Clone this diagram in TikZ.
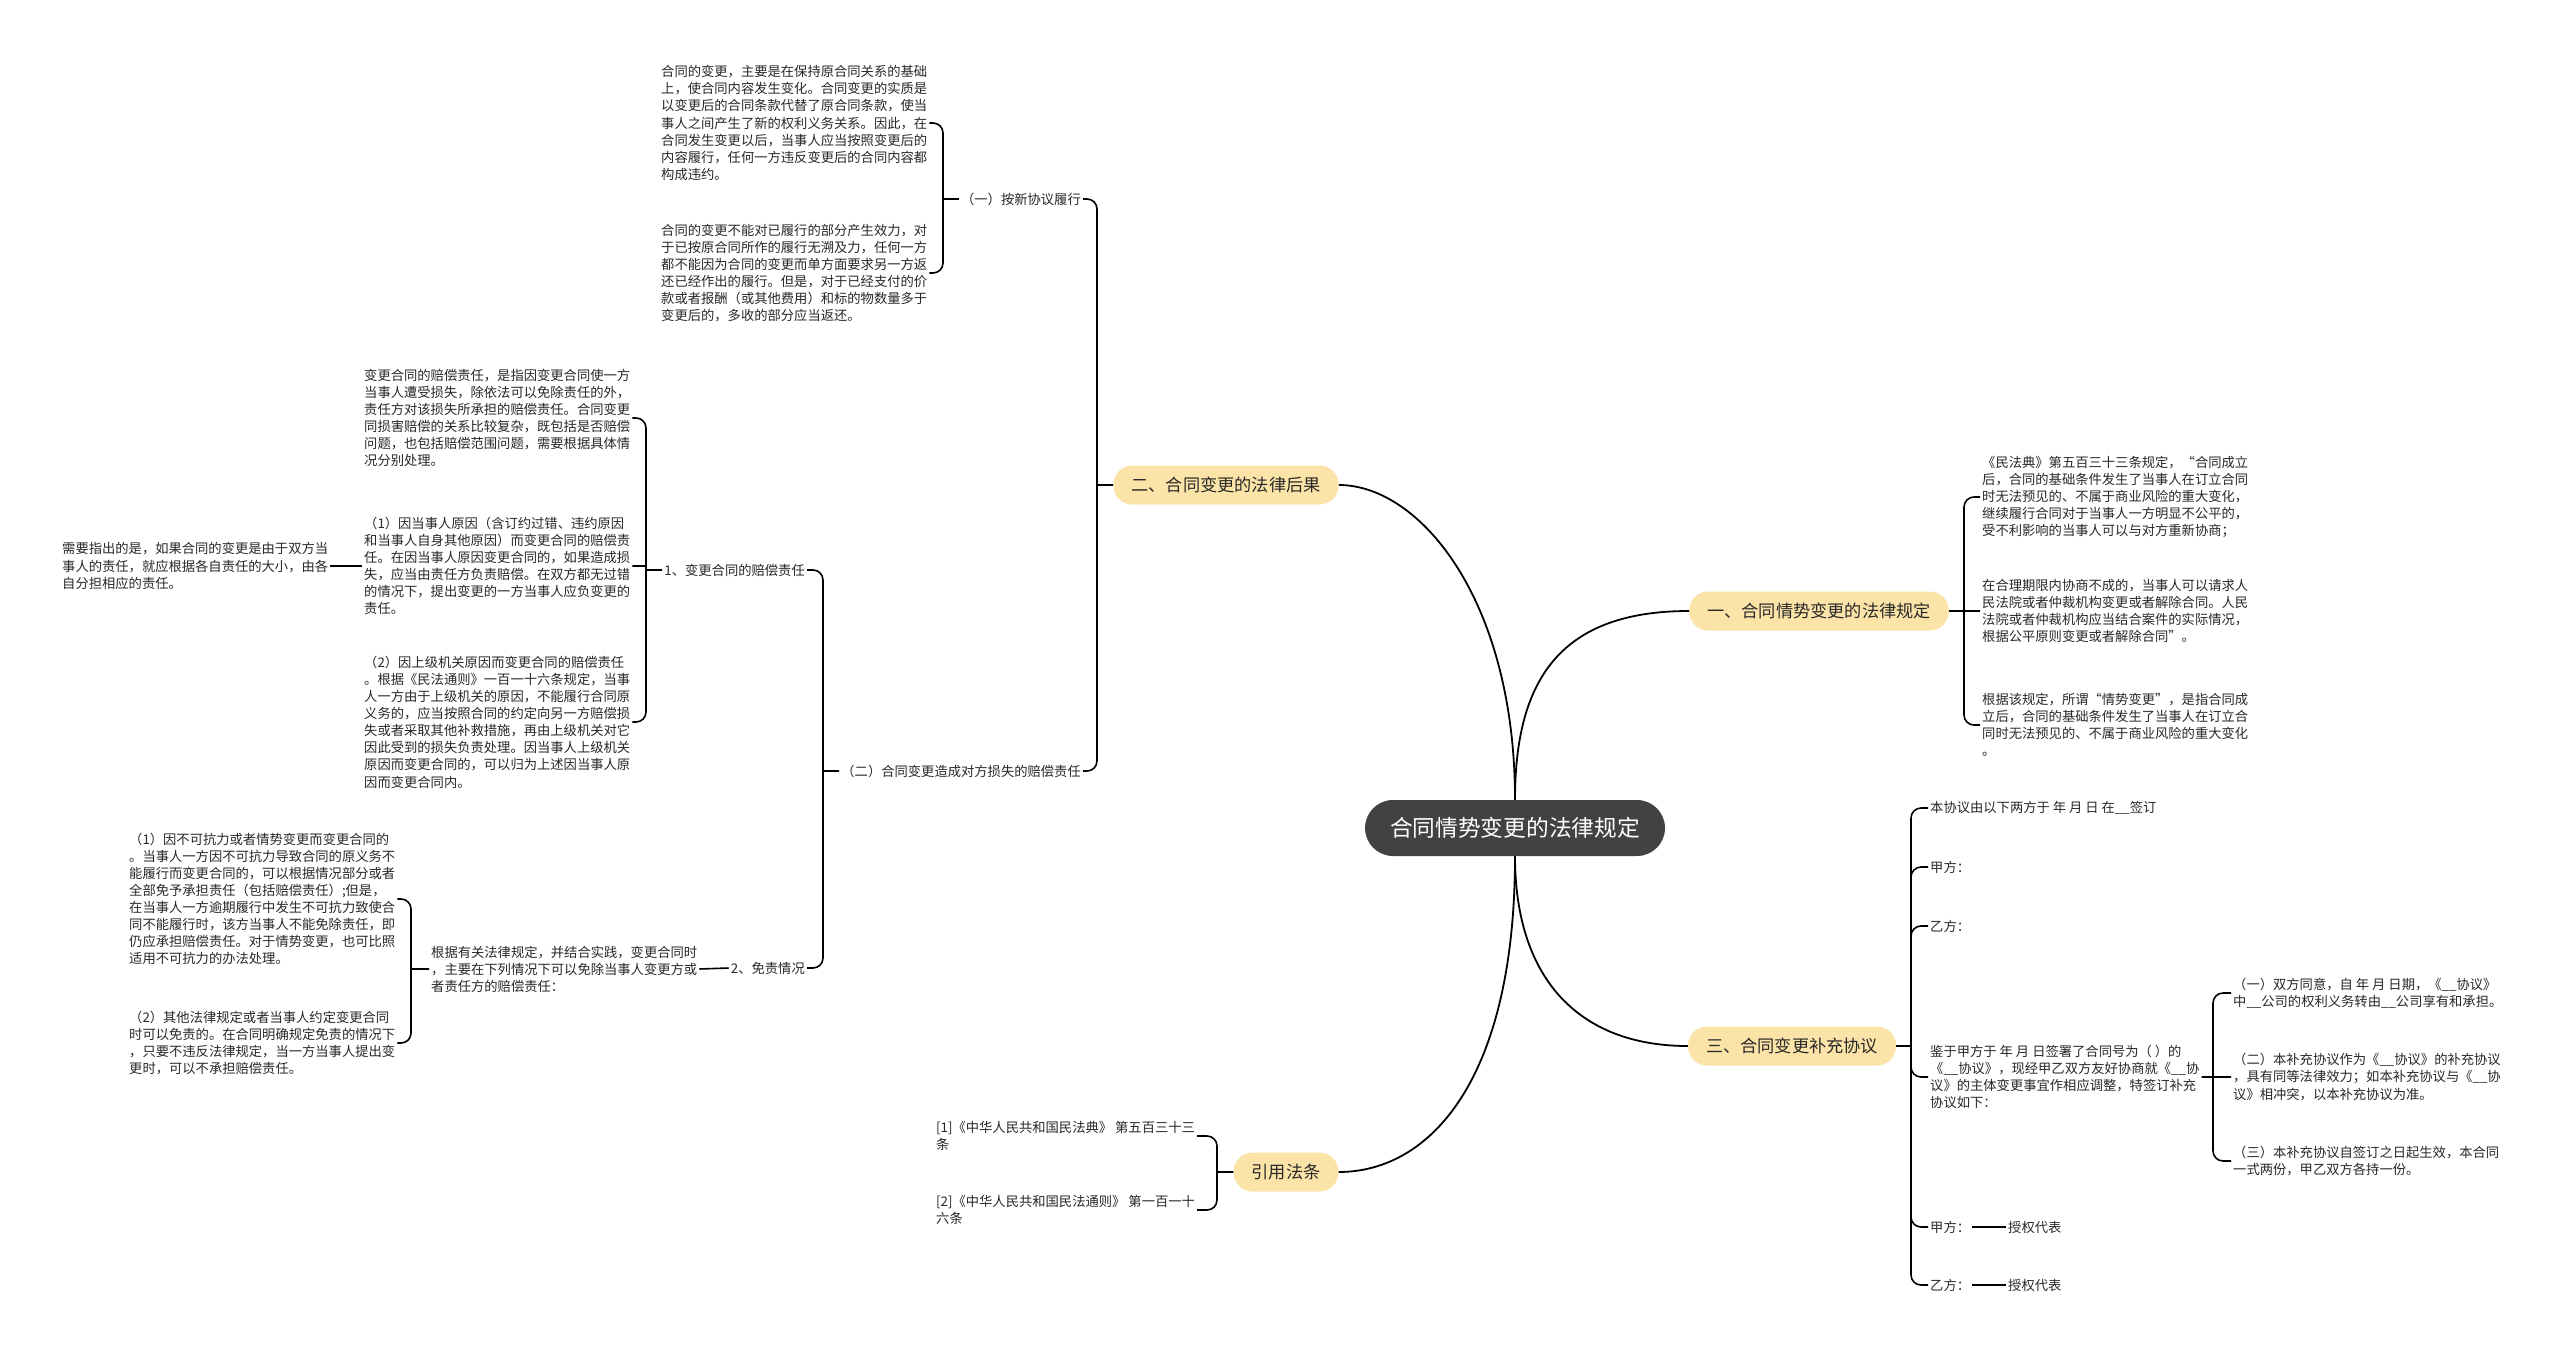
\documentclass[tikz,border=0pt]{standalone}
\usepackage{fontspec}
\newfontfamily\cjk{Noto Sans CJK SC}
\usetikzlibrary{positioning,calc}
\definecolor{rootgray}{RGB}{66,66,66}
\definecolor{branchyellow}{RGB}{252,228,168}
\definecolor{inkgray}{RGB}{40,40,40}

\begin{document}
\begin{tikzpicture}[x=1pt,y=-1pt,
  txt/.style={font=\cjk\fontsize{13.3}{17.1}\selectfont,text=inkgray,align=left,inner sep=2pt},
  branch/.style={font=\cjk\fontsize{17.2}{20}\selectfont,text=inkgray,fill=branchyellow,rounded corners=19pt,minimum height=39pt,inner xsep=18pt},
  rootbox/.style={font=\cjk\fontsize{22.7}{26}\selectfont,text=white,fill=rootgray,rounded corners=28pt,minimum height=56pt,minimum width=300pt},
  link/.style={draw=black,line width=1.6pt,rounded corners=10pt},
  curve/.style={draw=black,line width=1.8pt}]
\fill[white] (0,0) rectangle (2560,1357);
\useasboundingbox (0,0) rectangle (2560,1357);

\node[rootbox] (root) at (1515,828) {合同情势变更的法律规定};
\node[branch] (er) at (1226,485) {二、合同变更的法律后果};
\node[branch] (yi) at (1819,611) {一、合同情势变更的法律规定};
\node[branch] (san) at (1792,1046) {三、合同变更补充协议};
\node[branch] (yin) at (1286,1172) {引用法条};
\draw[curve] (root.north) .. controls (1515,600) and (1420,485) .. (er.east);
\draw[curve] (root.north) .. controls (1515,680) and (1560,611) .. (yi.west);
\draw[curve] (root.south) .. controls (1515,980) and (1580,1046) .. (san.west);
\draw[curve] (root.south) .. controls (1515,1080) and (1430,1172) .. (yin.east);

\node[txt,anchor=east] (erA) at (1083,199) {（一）按新协议履行};
\node[txt,anchor=east] (erB) at (1083,771) {（二）合同变更造成对方损失的赔偿责任};
\coordinate (erJ) at (1097,485);
\draw[link] (er.west) -- (erJ) (erJ) |- (erA.east) (erJ) |- (erB.east);

\node[txt,anchor=west] (blkA) at (659,123) {合同的变更，主要是在保持原合同关系的基础\\上，使合同内容发生变化。合同变更的实质是\\以变更后的合同条款代替了原合同条款，使当\\事人之间产生了新的权利义务关系。因此，在\\合同发生变更以后，当事人应当按照变更后的\\内容履行，任何一方违反变更后的合同内容都\\构成违约。};
\node[txt,anchor=west] (blkB) at (659,273) {合同的变更不能对已履行的部分产生效力，对\\于已按原合同所作的履行无溯及力，任何一方\\都不能因为合同的变更而单方面要求另一方返\\还已经作出的履行。但是，对于已经支付的价\\款或者报酬（或其他费用）和标的物数量多于\\变更后的，多收的部分应当返还。};
\coordinate (erAJ) at (943,199);
\draw[link] (erA.west) -- (erAJ) (erAJ) |- (blkA.east) (erAJ) |- (blkB.east);

\node[txt,anchor=east] (erB1) at (807,570) {1、变更合同的赔偿责任};
\node[txt,anchor=east] (erB2) at (807,968) {2、免责情况};
\coordinate (erBJ) at (823,771);
\draw[link] (erB.west) -- (erBJ) (erBJ) |- (erB1.east) (erBJ) |- (erB2.east);

\node[txt,anchor=west] (blkC) at (362,418) {变更合同的赔偿责任，是指因变更合同使一方\\当事人遭受损失，除依法可以免除责任的外，\\责任方对该损失所承担的赔偿责任。合同变更\\同损害赔偿的关系比较复杂，既包括是否赔偿\\问题，也包括赔偿范围问题，需要根据具体情\\况分别处理。};
\node[txt,anchor=west] (blkD) at (362,566) {（1）因当事人原因（含订约过错、违约原因\\和当事人自身其他原因）而变更合同的赔偿责\\任。在因当事人原因变更合同的，如果造成损\\失，应当由责任方负责赔偿。在双方都无过错\\的情况下，提出变更的一方当事人应负变更的\\责任。};
\node[txt,anchor=west] (blkE) at (362,722) {（2）因上级机关原因而变更合同的赔偿责任\\。根据《民法通则》一百一十六条规定，当事\\人一方由于上级机关的原因，不能履行合同原\\义务的，应当按照合同的约定向另一方赔偿损\\失或者采取其他补救措施，再由上级机关对它\\因此受到的损失负责处理。因当事人上级机关\\原因而变更合同的，可以归为上述因当事人原\\因而变更合同内。};
\coordinate (erB1J) at (646,570);
\draw[link] (erB1.west) -- (erB1J) (erB1J) |- (blkC.east) (erB1J) |- (blkE.east) (blkD.east) -- (blkD.east -| erB1J);
\node[txt,anchor=west] (blkK) at (60,566) {需要指出的是，如果合同的变更是由于双方当\\事人的责任，就应根据各自责任的大小，由各\\自分担相应的责任。};
\draw[link] (blkK.east) -- (blkD.west);

\node[txt,anchor=west] (blkL) at (429,969) {根据有关法律规定，并结合实践，变更合同时\\，主要在下列情况下可以免除当事人变更方或\\者责任方的赔偿责任：};
\draw[link] (erB2.west) -- (blkL.east);
\node[txt,anchor=west] (blkF) at (127,899) {（1）因不可抗力或者情势变更而变更合同的\\。当事人一方因不可抗力导致合同的原义务不\\能履行而变更合同的，可以根据情况部分或者\\全部免予承担责任（包括赔偿责任）;但是，\\在当事人一方逾期履行中发生不可抗力致使合\\同不能履行时，该方当事人不能免除责任，即\\仍应承担赔偿责任。对于情势变更，也可比照\\适用不可抗力的办法处理。};
\node[txt,anchor=west] (blkG) at (127,1043) {（2）其他法律规定或者当事人约定变更合同\\时可以免责的。在合同明确规定免责的情况下\\，只要不违反法律规定，当一方当事人提出变\\更时，可以不承担赔偿责任。};
\coordinate (blkLJ) at (411,969);
\draw[link] (blkL.west) -- (blkLJ) (blkLJ) |- (blkF.east) (blkLJ) |- (blkG.east);

\node[txt,anchor=west] (blkH) at (1980,497) {《民法典》第五百三十三条规定，“合同成立\\后，合同的基础条件发生了当事人在订立合同\\时无法预见的、不属于商业风险的重大变化，\\继续履行合同对于当事人一方明显不公平的，\\受不利影响的当事人可以与对方重新协商；};
\node[txt,anchor=west] (blkI) at (1980,611) {在合理期限内协商不成的，当事人可以请求人\\民法院或者仲裁机构变更或者解除合同。人民\\法院或者仲裁机构应当结合案件的实际情况，\\根据公平原则变更或者解除合同”。};
\node[txt,anchor=west] (blkJ) at (1980,725) {根据该规定，所谓“情势变更”，是指合同成\\立后，合同的基础条件发生了当事人在订立合\\同时无法预见的、不属于商业风险的重大变化\\。};
\coordinate (yiJ) at (1964,611);
\draw[link] (yi.east) -- (yiJ) (yiJ) |- (blkH.west) (yiJ) |- (blkJ.west) (blkI.west) -- (blkI.west -| yiJ);

\node[txt,anchor=west] (s1) at (1928,808) {本协议由以下两方于 年 月 日 在\_\_签订};
\node[txt,anchor=west] (s2) at (1928,867) {甲方：};
\node[txt,anchor=west] (s3) at (1928,926) {乙方：};
\node[txt,anchor=west] (s4) at (1928,1077) {鉴于甲方于 年 月 日签署了合同号为（ ）的\\《\_\_协议》，现经甲乙双方友好协商就《\_\_协\\议》的主体变更事宜作相应调整，特签订补充\\协议如下：};
\node[txt,anchor=west] (s5) at (1928,1227) {甲方：};
\node[txt,anchor=west] (s6) at (1928,1285) {乙方：};
\node[txt,anchor=west] (s5a) at (2006,1227) {授权代表};
\node[txt,anchor=west] (s6a) at (2006,1285) {授权代表};
\coordinate (sanJ) at (1911,1046);
\draw[link] (san.east) -- (sanJ) (sanJ) |- (s1.west) (sanJ) |- (s2.west) (sanJ) |- (s3.west) (sanJ) |- (s4.west) (sanJ) |- (s5.west) (sanJ) |- (s6.west);
\draw[link] (s5.east) -- (s5a.west) (s6.east) -- (s6a.west);

\node[txt,anchor=west] (blkM) at (2231,993) {（一）双方同意，自 年 月 日期，《\_\_协议》\\中\_\_公司的权利义务转由\_\_公司享有和承担。};
\node[txt,anchor=west] (blkN) at (2231,1077) {（二）本补充协议作为《\_\_协议》的补充协议\\，具有同等法律效力；如本补充协议与《\_\_协\\议》相冲突，以本补充协议为准。};
\node[txt,anchor=west] (blkO) at (2231,1161) {（三）本补充协议自签订之日起生效，本合同\\一式两份，甲乙双方各持一份。};
\coordinate (s4J) at (2213,1077);
\draw[link] (s4.east) -- (s4J) (s4J) |- (blkM.west) (s4J) |- (blkO.west) (blkN.west) -- (blkN.west -| s4J);

\node[txt,anchor=west] (r1) at (934,1136) {[1]《中华人民共和国民法典》 第五百三十三\\条};
\node[txt,anchor=west] (r2) at (934,1210) {[2]《中华人民共和国民法通则》 第一百一十\\六条};
\coordinate (yinJ) at (1217,1172);
\draw[link] (yin.west) -- (yinJ) (yinJ) |- (r1.east) (yinJ) |- (r2.east);
\end{tikzpicture}
\end{document}
